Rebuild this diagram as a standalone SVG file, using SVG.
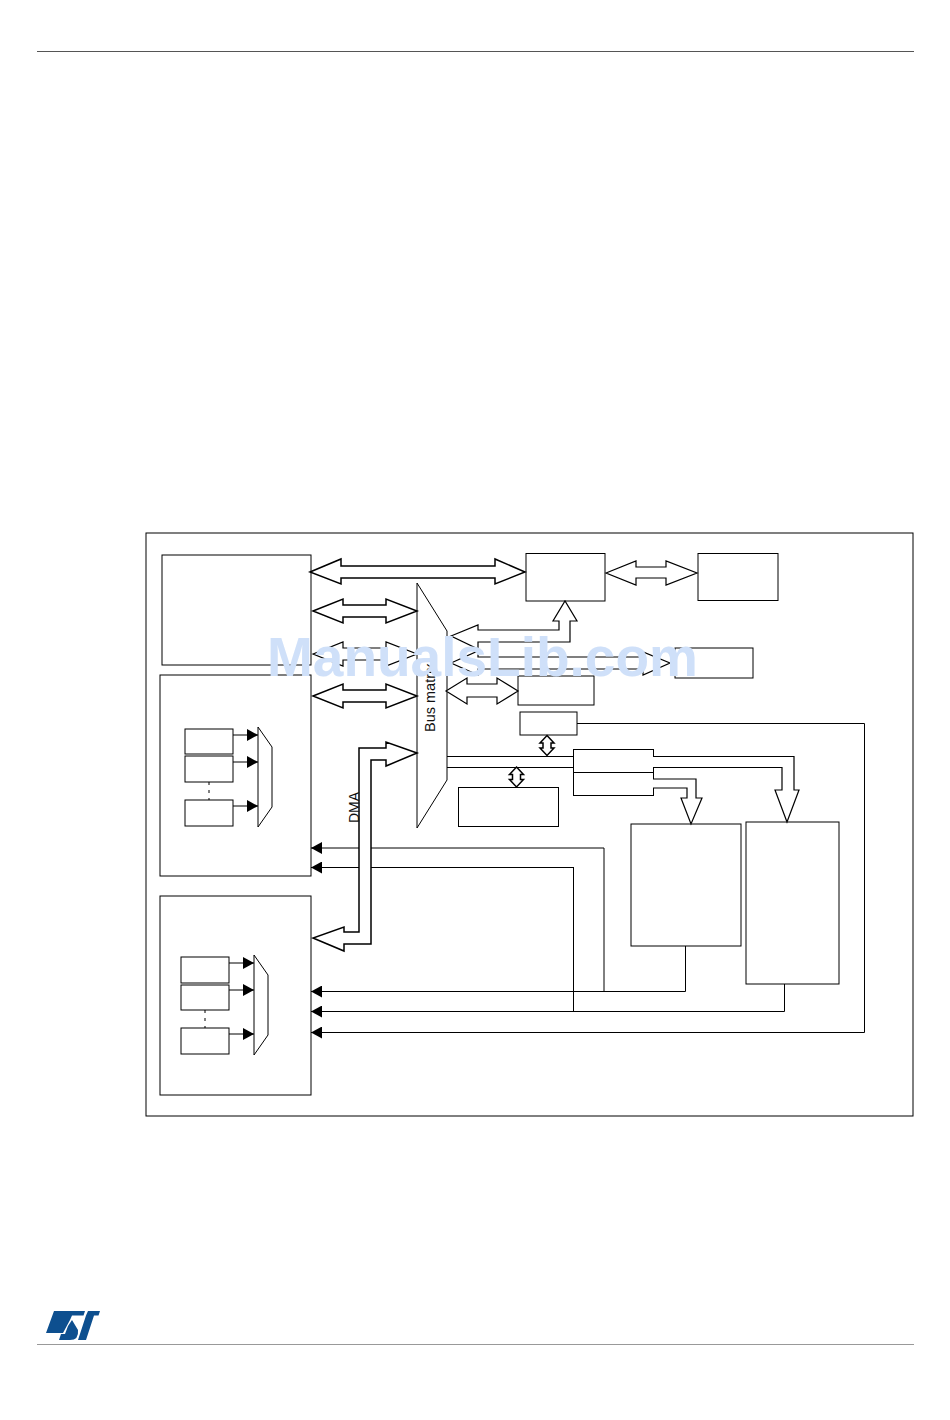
<svg xmlns="http://www.w3.org/2000/svg" width="950" height="1420" viewBox="0 0 950 1420">
<style>
.b{fill:#fff;stroke:#000;stroke-width:1}
.l{fill:none;stroke:#000;stroke-width:1}
.g{fill:#fff;stroke:#000;stroke-width:1.2}
.g2{fill:#fff;stroke:#000;stroke-width:1.5}
.t{font-family:"Liberation Sans",Arial,sans-serif;fill:#111}
</style>
<defs>
<marker id="ah" markerUnits="userSpaceOnUse" markerWidth="11" markerHeight="12" refX="11" refY="6" orient="auto"><path d="M0,0L11,6L0,12Z" fill="#000"/></marker>
</defs>
<rect width="950" height="1420" fill="#fff"/>
<path d="M37,51.5H914" stroke="#555" stroke-width="1" fill="none"/>
<path d="M37,1344.5H914" stroke="#999" stroke-width="1.2" fill="none"/>
<g id="outer"><rect class="b" x="146" y="533" width="767" height="583"/></g>
<g id="node-top-left"><rect class="b" x="162" y="555" width="149" height="110"/></g>
<g id="node-left-mid"><rect class="b" x="160" y="675" width="151" height="201"/>
<rect class="b" x="185" y="729" width="48" height="25"/><rect class="b" x="185" y="756" width="48" height="26"/><rect class="b" x="185" y="800" width="48" height="26"/>
<path d="M209,782V800" class="l" stroke-dasharray="3 5"/>
<path class="b" d="M258,727L272,747V807L258,827Z"/>
<path class="l" marker-end="url(#ah)" d="M233,735H258"/><path class="l" marker-end="url(#ah)" d="M233,762H258"/><path class="l" marker-end="url(#ah)" d="M233,806H258"/>
</g>
<g id="node-left-low"><rect class="b" x="160" y="896" width="151" height="199"/>
<rect class="b" x="181" y="957" width="48" height="26"/><rect class="b" x="181" y="985" width="48" height="25"/><rect class="b" x="181" y="1028" width="48" height="26"/>
<path d="M205,1010V1028" class="l" stroke-dasharray="3 5"/>
<path class="b" d="M254,955L268,975V1035L254,1055Z"/>
<path class="l" marker-end="url(#ah)" d="M229,963H254"/><path class="l" marker-end="url(#ah)" d="M229,990H254"/><path class="l" marker-end="url(#ah)" d="M229,1034H254"/>
</g>
<g id="node-bus"><path class="b" d="M417,583L447,631V780L417,828Z"/>
<text class="t" font-size="14.500" transform="translate(435,732) rotate(-90)">Bus matrix</text></g>
<g id="node-a"><rect class="b" x="526" y="553.500" width="79" height="47.500"/></g>
<g id="node-b"><rect class="b" x="698" y="553.500" width="80" height="47"/></g>
<g id="node-c"><rect class="b" x="675" y="648" width="78" height="30"/></g>
<g id="node-d"><rect class="b" x="518" y="676" width="76" height="29"/></g>
<g id="node-e"><rect class="b" x="520" y="712" width="57" height="23"/></g>
<g id="node-f"><rect class="b" x="458.500" y="787.500" width="100" height="39"/></g>
<g id="node-g"><rect class="b" x="573.500" y="749.500" width="80" height="23"/><rect class="b" x="573.500" y="772.500" width="80" height="23"/></g>
<g id="node-h"><rect class="b" x="631" y="824" width="110" height="122"/></g>
<g id="node-i"><rect class="b" x="746" y="822" width="93" height="162"/></g>
<g id="connectors">
<path class="l" d="M604,848V991M573.500,867V1011"/>
<path class="l" marker-end="url(#ah)" d="M604,848H311"/>
<path class="l" marker-end="url(#ah)" d="M573.500,867.500H311"/>
<path class="l" marker-end="url(#ah)" d="M685.500,946V991.500H311"/>
<path class="l" marker-end="url(#ah)" d="M784.500,984V1011.500H311"/>
<path class="l" marker-end="url(#ah)" d="M577,723.500H864.500V1032.500H311"/>
<path class="l" d="M447,756.500H574M447,767.500H574"/>
<path class="g2" d="M310,572L341,559V566H495V559L525,572L495,584V578H341V584Z"/>
<path class="g2" d="M313,611L343,599V605H386V599L417,611L386,623V617H343V623Z"/>
<path class="g" d="M313,654L343,642V648H386V642L417,654L386,666V660H343V666Z"/>
<path class="g2" d="M313,696L343,684V690H386V684L417,696L386,708V702H343V708Z"/>
<path class="g" d="M606,573L636,561V567H666V561L697,573L666,585V578H636V585Z"/>
<path class="g" d="M451,636L478,625V630H559V621H553L565,601L577,621H570V642H478V649Z"/>
<path class="g" d="M451,663L478,651V657H643V652L670,663L643,675V669H478V675Z"/>
<path class="g" d="M446,691L467,678V684H497V678L518,691L497,704V697H467V704Z"/>
<path class="g2" d="M417,753L386,742V748H359V932H344V927L313,938L344,951V944H371V760H386V766Z"/>
<path class="g2" d="M547,735.500L554,743H551V748H554L547,755.500L540,748H543V743H540Z"/>
<path class="g2" d="M516.500,767L523.500,774.500H520.500V779.500H523.500L516.500,787L509.500,779.500H512.500V774.500H509.500Z"/>
<path class="g" d="M653,756.500H794V790H799L787,822L775,790H782V767.500H653"/>
<path class="g" d="M653,779H696V798H702L691,824L681,798H687V788H653"/>
</g>
<text class="t" font-size="14" transform="translate(359,823) rotate(-90)">DMA</text>
<g id="logo" fill="#0d4f8f">
<path d="M54,1311H85L83.500,1315.500H72L70,1320L63,1333H46Z"/>
<path d="M72,1320L78,1330Q79,1340 70,1340H59L61,1334H65L68,1326Z"/>
<path d="M88,1311H100L98.500,1315.500H94L86,1340H78L86,1315.500Z"/>
</g>
<text x="267" y="676" font-family="Liberation Sans,Arial,sans-serif" font-weight="700" font-size="55" fill="#cfe0f9">ManualsLib.com</text>
</svg>
